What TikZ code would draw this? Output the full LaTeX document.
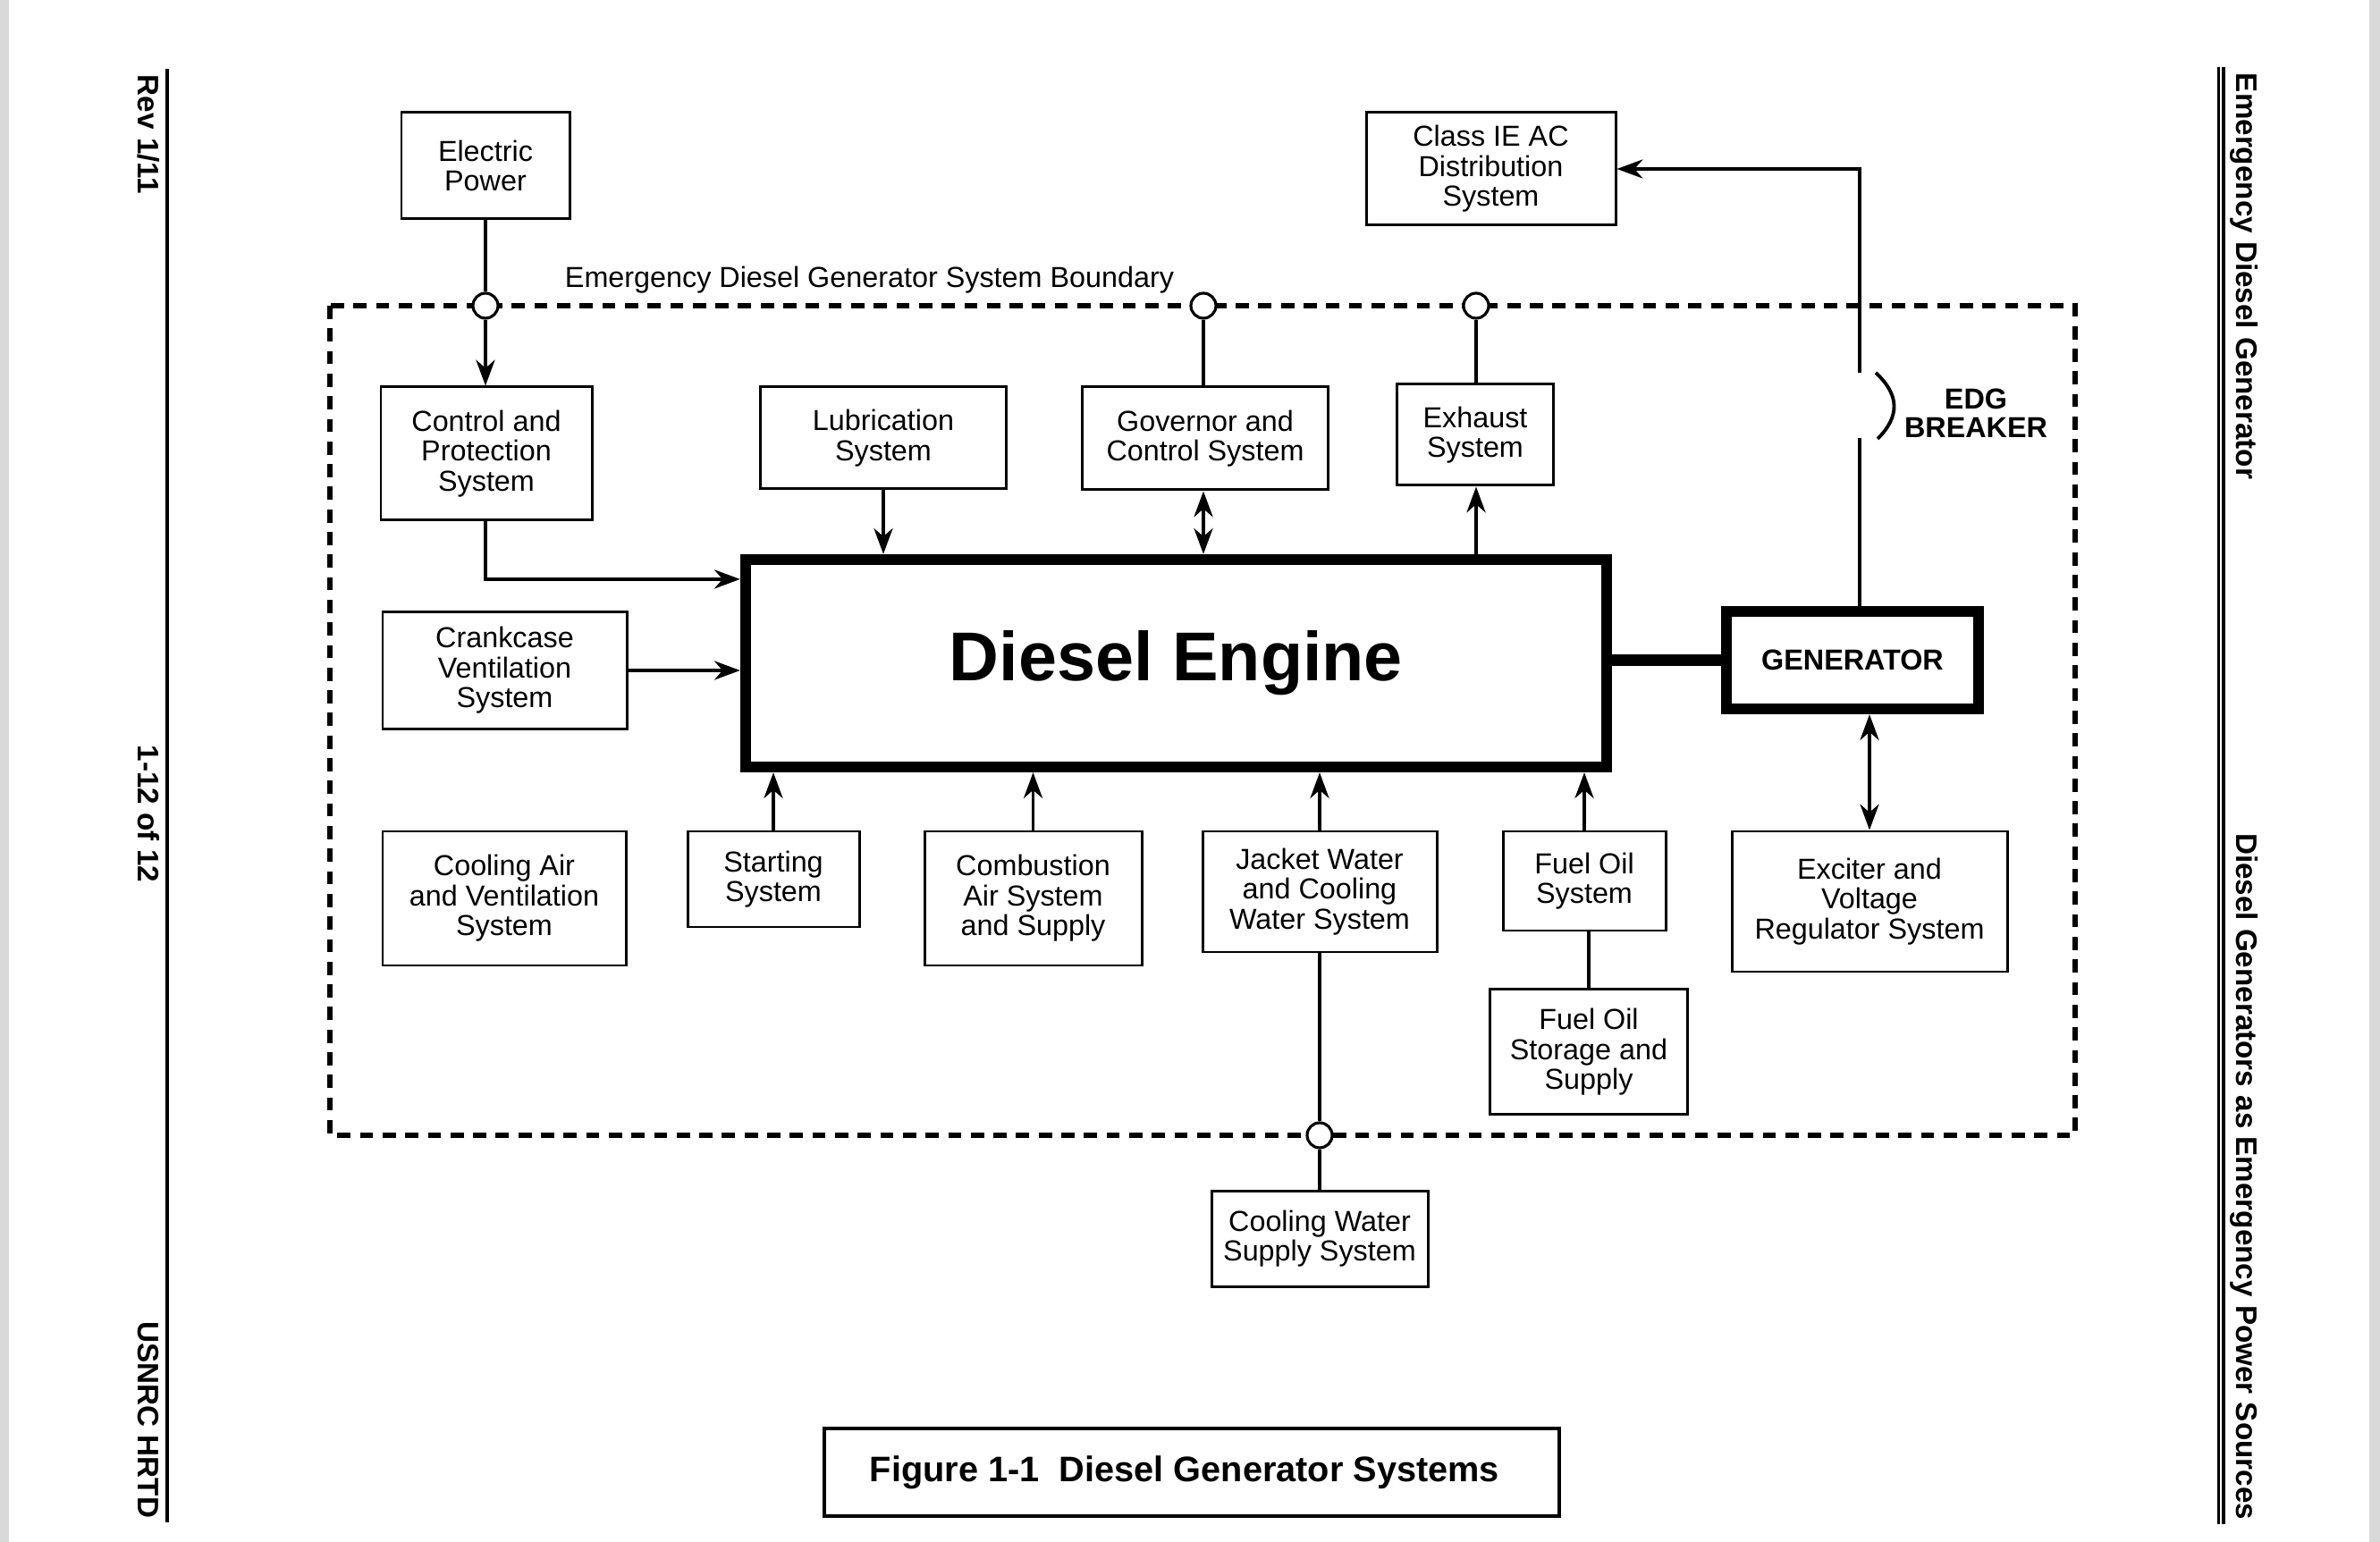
\documentclass[tikz,border=0pt]{standalone}
\usepackage{fontspec}
\setmainfont{Liberation Sans}
\usetikzlibrary{arrows.meta,positioning,calc}

\newcommand{\boxfont}{\fontsize{9.2}{9.5}\selectfont}
\newcommand{\tagfont}{\fontsize{9.45}{11}\selectfont\bfseries}

\begin{document}
\begin{tikzpicture}[x=1mm, y=-1mm, line width=1.1pt, >={Stealth[length=8.2pt,width=6pt,inset=2.6pt]}]

    \tikzstyle{sysbox} = [rectangle, draw=black, line width=0.85pt, inner sep=0pt, align=center, font=\boxfont]
    \tikzstyle{bigbox} = [rectangle, draw=black, line width=3.5pt, inner sep=0pt]
    \tikzstyle{port}   = [circle, draw=black, fill=white, line width=0.9pt, minimum size=2.8mm, inner sep=0pt]
    \tikzstyle{sidetag} = [rotate=-90, inner sep=0pt, font=\tagfont]

    \useasboundingbox (0,0) rectangle (266.2,172.5);
    \fill[white] (0,0) rectangle (266.2,172.5);
    \fill[black!15] (0,0) rectangle (1.0,172.5);
    \fill[black!15] (265.0,0) rectangle (266.2,172.5);

    % page rules and running heads
    \draw[line width=1.2pt] (18.7,7.7) -- (18.7,170.3);
    \draw[line width=0.8pt] (248.15,7.5) -- (248.15,170.5);
    \draw[line width=1.3pt] (248.7,7.5) -- (248.7,170.5);

    \node (rev)    [sidetag, anchor=west] at (16.6,8.2)   {Rev 1/11};
    \node (page)   [sidetag, anchor=west] at (16.6,83.2)  {1-12 of 12};
    \node (org)    [sidetag, anchor=east] at (16.6,170.0) {USNRC HRTD};
    \node (chap)   [sidetag, anchor=west] at (251.0,8.0)   {Emergency Diesel Generator};
    \node (sect)   [sidetag, anchor=east] at (251.0,170.2) {Diesel Generators as Emergency Power Sources};

    % system boundary
    \draw[line width=1.7pt, dash pattern=on 4.2pt off 3pt] (36.9,34.2) rectangle (232.1,127.0);
    \node (bndlabel) [anchor=base west, inner sep=0pt, font=\boxfont] at (63.0,32.2) {Emergency Diesel Generator System Boundary};

    \node (port1) [port] at (54.3,34.2)  {};
    \node (port2) [port] at (134.6,34.2) {};
    \node (port3) [port] at (165.1,34.2) {};
    \node (port4) [port] at (147.6,127.0) {};

    \node (elec)    [sysbox, minimum width=18.8mm, minimum height=11.9mm] at (54.3,18.55)   {Electric\\Power};
    \node (classac) [sysbox, minimum width=27.9mm, minimum height=12.6mm] at (166.75,18.9)  {Class IE AC\\Distribution\\System};

    \node (ctrl)    [sysbox, minimum width=23.6mm, minimum height=14.9mm] at (54.4,50.75)   {Control and\\Protection\\System};
    \node (lube)    [sysbox, minimum width=27.5mm, minimum height=11.4mm] at (98.8,49.0)    {Lubrication\\System};
    \node (gov)     [sysbox, minimum width=27.5mm, minimum height=11.5mm] at (134.8,49.05)  {Governor and\\Control System};
    \node (exhaust) [sysbox, minimum width=17.5mm, minimum height=11.3mm] at (165.0,48.65)  {Exhaust\\System};

    \node (engine)  [bigbox, minimum width=96.3mm, minimum height=23.2mm,
                     font=\fontsize{22}{26}\selectfont\bfseries] at (131.55,74.2) {Diesel Engine};
    \node (gen)     [bigbox, minimum width=28.2mm, minimum height=10.9mm,
                     font=\boxfont\bfseries] at (207.2,73.85) {GENERATOR};

    \node (crank)   [sysbox, minimum width=27.3mm, minimum height=13.1mm] at (56.45,75.0)  {Crankcase\\Ventilation\\System};

    \node (coolair) [sysbox, minimum width=27.2mm, minimum height=15.0mm] at (56.4,100.5)  {Cooling Air\\and Ventilation\\System};
    \node (start)   [sysbox, minimum width=19.2mm, minimum height=10.7mm] at (86.5,98.35)  {Starting\\System};
    \node (combair) [sysbox, minimum width=24.3mm, minimum height=15.0mm] at (115.55,100.5) {Combustion\\Air System\\and Supply};
    \node (jacket)  [sysbox, minimum width=26.2mm, minimum height=13.5mm] at (147.6,99.75)  {Jacket Water\\and Cooling\\Water System};
    \node (fuel)    [sysbox, minimum width=18.2mm, minimum height=11.1mm] at (177.2,98.55)  {Fuel Oil\\System};
    \node (exciter) [sysbox, minimum width=30.8mm, minimum height=15.7mm] at (209.1,100.85) {Exciter and\\Voltage\\Regulator System};

    \node (fuelstore) [sysbox, minimum width=22.1mm, minimum height=14.0mm, below=6.3mm of fuel, xshift=0.5mm] {Fuel Oil\\Storage and\\Supply};
    \node (coolwater) [sysbox, minimum width=24.2mm, minimum height=10.7mm, below=4.5mm of port4] {Cooling Water\\Supply System};

    \node (brklabel) [align=center, inner sep=0pt, font=\fontsize{9.2}{9.2}\selectfont\bfseries] at (221.0,46.2) {EDG\\BREAKER};

    \node (caption) [sysbox, line width=1pt, minimum width=82.2mm, minimum height=9.8mm,
                     font=\fontsize{11.3}{13}\selectfont\bfseries] at (133.3,164.7) {Figure 1-1\ \ Diesel Generator Systems\hspace{1.6mm}};

    % connections
    \draw (elec.south) -- (port1);
    \draw[->] (port1) -- (port1 |- ctrl.north);
    \draw[->] (ctrl.south -| port1) |- ($(engine.north west)!0.115!(engine.south west)$);
    \draw[->] (crank.east) -- (crank.east -| engine.west);

    \draw[->] (lube.south) -- (lube.south |- engine.north);
    \draw (port2) -- (port2 |- gov.north);
    \draw[<->] (port2 |- gov.south) -- (port2 |- engine.north);
    \draw (port3) -- (port3 |- exhaust.north);
    \draw[->] (port3 |- engine.north) -- (port3 |- exhaust.south);

    \draw[->] (start.north) -- (start.north |- engine.south);
    \draw[->] (combair.north) -- (combair.north |- engine.south);
    \draw[->] (jacket.north) -- (jacket.north |- engine.south);
    \draw[->] (fuel.north) -- (fuel.north |- engine.south);

    \draw (jacket.south) -- (port4);
    \draw (port4) -- (coolwater.north);
    \draw (fuelstore.north) -- (fuelstore.north |- fuel.south);

    \draw[line width=3.5pt] (engine.east |- gen.west) -- (gen.west);
    \draw[<->] (exciter.north) -- (exciter.north |- gen.south);

    % breaker
    \coordinate (brklo) at (208.0,49.0);
    \coordinate (brkhi) at (208.0,41.7);
    \draw (gen.north -| brklo) -- (brklo);
    \draw[->] (brkhi) |- (classac.east);
    \draw (209.8,41.7) .. controls (212.5,44.2) and (212.5,46.6) .. (210.0,49.1);

\end{tikzpicture}
\end{document}
